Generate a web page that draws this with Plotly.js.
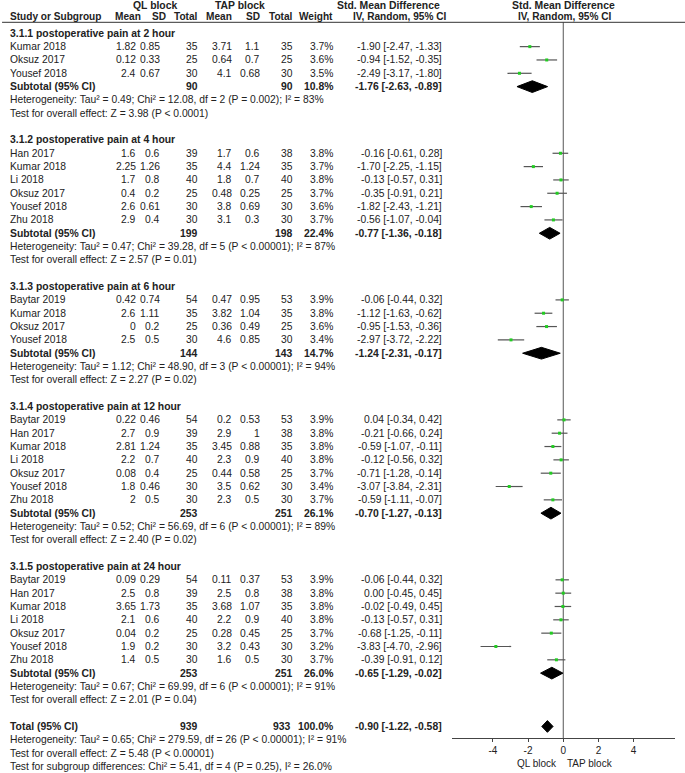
<!DOCTYPE html>
<html>
<head>
<meta charset="utf-8">
<script src="https://cdn.plot.ly/plotly-3.0.1.min.js"></script>
<style>
  body { margin: 0; background: #fff; }
  #plot { width: 685px; height: 773px; }
</style>
</head>
<body>
<div id="plot"></div>
<script>
// Study rows (flat, grouped by studyGroup)
const studyGroup = [0,0,0, 1,1,1,1,1,1, 2,2,2,2, 3,3,3,3,3,3,3, 4,4,4,4,4,4,4];
const studyName = [
  "Kumar 2018","Oksuz 2017","Yousef 2018",
  "Han 2017","Kumar 2018","Li 2018","Oksuz 2017","Yousef 2018","Zhu 2018",
  "Baytar 2019","Kumar 2018","Oksuz 2017","Yousef 2018",
  "Baytar 2019","Han 2017","Kumar 2018","Li 2018","Oksuz 2017","Yousef 2018","Zhu 2018",
  "Baytar 2019","Han 2017","Kumar 2018","Li 2018","Oksuz 2017","Yousef 2018","Zhu 2018"
];
const qlMean  = [1.82,0.12,2.4, 1.6,2.25,1.7,0.4,2.6,2.9, 0.42,2.6,0,2.5, 0.22,2.7,2.81,2.2,0.08,1.8,2, 0.09,2.5,3.65,2.1,0.04,1.9,1.4];
const qlSD    = [0.85,0.33,0.67, 0.6,1.26,0.8,0.2,0.61,0.4, 0.74,1.11,0.2,0.5, 0.46,0.9,1.24,0.7,0.4,0.46,0.5, 0.29,0.8,1.73,0.6,0.2,0.2,0.5];
const qlN     = [35,25,30, 39,35,40,25,30,30, 54,35,25,30, 54,39,35,40,25,30,30, 54,39,35,40,25,30,30];
const tapMean = [3.71,0.64,4.1, 1.7,4.4,1.8,0.48,3.8,3.1, 0.47,3.82,0.36,4.6, 0.2,2.9,3.45,2.3,0.44,3.5,2.3, 0.11,2.5,3.68,2.2,0.28,3.2,1.6];
const tapSD   = [1.1,0.7,0.68, 0.6,1.24,0.7,0.25,0.69,0.3, 0.95,1.04,0.49,0.85, 0.53,1,0.88,0.9,0.58,0.62,0.5, 0.37,0.8,1.07,0.9,0.45,0.43,0.5];
const tapN    = [35,25,30, 38,35,40,25,30,30, 53,35,25,30, 53,38,35,40,25,30,30, 53,38,35,40,25,30,30];
const weight  = [3.7,3.6,3.5, 3.8,3.7,3.8,3.7,3.6,3.7, 3.9,3.8,3.6,3.4, 3.9,3.8,3.8,3.8,3.7,3.4,3.7, 3.9,3.8,3.8,3.8,3.7,3.2,3.7];
const smd     = [-1.90,-0.94,-2.49, -0.16,-1.70,-0.13,-0.35,-1.82,-0.56, -0.06,-1.12,-0.95,-2.97, 0.04,-0.21,-0.59,-0.12,-0.71,-3.07,-0.59, -0.06,0.00,-0.02,-0.13,-0.68,-3.83,-0.39];
const ciLow   = [-2.47,-1.52,-3.17, -0.61,-2.25,-0.57,-0.91,-2.43,-1.07, -0.44,-1.63,-1.53,-3.72, -0.34,-0.66,-1.07,-0.56,-1.28,-3.84,-1.11, -0.44,-0.45,-0.49,-0.57,-1.25,-4.70,-0.91];
const ciHigh  = [-1.33,-0.35,-1.80, 0.28,-1.15,0.31,0.21,-1.21,-0.04, 0.32,-0.62,-0.36,-2.22, 0.42,0.24,-0.11,0.32,-0.14,-2.31,-0.07, 0.32,0.45,0.45,0.31,-0.11,-2.96,0.12];

// Subgroups
const subTitle = [
  "3.1.1 postoperative pain at 2 hour",
  "3.1.2 postoperative pain at 4 hour",
  "3.1.3 postoperative pain at 6 hour",
  "3.1.4 postoperative pain at 12 hour",
  "3.1.5 postoperative pain at 24 hour"
];
const subQlN = [90, 199, 144, 253, 253];
const subTapN = [90, 198, 143, 251, 251];
const subWeight = [10.8, 22.4, 14.7, 26.1, 26.0];
const subSmd = [-1.76, -0.77, -1.24, -0.70, -0.65];
const subLow = [-2.63, -1.36, -2.31, -1.27, -1.29];
const subHigh = [-0.89, -0.18, -0.17, -0.13, -0.02];
const subHet = [
  "Heterogeneity: Tau² = 0.49; Chi² = 12.08, df = 2 (P = 0.002); I² = 83%",
  "Heterogeneity: Tau² = 0.47; Chi² = 39.28, df = 5 (P < 0.00001); I² = 87%",
  "Heterogeneity: Tau² = 1.12; Chi² = 48.90, df = 3 (P < 0.00001); I² = 94%",
  "Heterogeneity: Tau² = 0.52; Chi² = 56.69, df = 6 (P < 0.00001); I² = 89%",
  "Heterogeneity: Tau² = 0.67; Chi² = 69.99, df = 6 (P < 0.00001); I² = 91%"
];
const subTest = [
  "Test for overall effect: Z = 3.98 (P < 0.0001)",
  "Test for overall effect: Z = 2.57 (P = 0.01)",
  "Test for overall effect: Z = 2.27 (P = 0.02)",
  "Test for overall effect: Z = 2.40 (P = 0.02)",
  "Test for overall effect: Z = 2.01 (P = 0.04)"
];

// Overall
const totalQlN = 939, totalTapN = 933, totalWeight = 100.0;
const totalSmd = -0.90, totalLow = -1.22, totalHigh = -0.58;
const totalNotes = [
  "Heterogeneity: Tau² = 0.65; Chi² = 279.59, df = 26 (P < 0.00001); I² = 91%",
  "Test for overall effect: Z = 5.48 (P < 0.00001)",
  "Test for subgroup differences: Chi² = 5.41, df = 4 (P = 0.25), I² = 26.0%"
];
const tickVals = [-4, -2, 0, 2, 4];

// page geometry (pixels)
const W = 685, H = 773;
const row0 = 33.3, pitch = 13.33;
const px = v => v / W;
const col = { name: 9.3, qm: 136.7, qs: 160.7, qn: 199, tm: 232.7, ts: 260.7, tn: 294, w: 334.3, ci: 442.7 };
const hdrRow = (22.3 - row0) / pitch;
const axisRow = (738.3 - row0) / pitch;

const fmtCI = (e, l, h) => `${e.toFixed(2)} [${l.toFixed(2)}, ${h.toFixed(2)}]`;

const ann = [];
function txt(x, r, s, anchor, bold, xref, size) {
  ann.push({
    x: xref ? x : px(x), xref: xref || "paper", y: r, yref: "y",
    text: bold ? `<b>${s}</b>` : s,
    font: { size: size || (bold ? 10.4 : 10.3) },
    xanchor: anchor, yanchor: "middle", showarrow: false, borderpad: 0
  });
}

// headers
txt(155, -2.12, "QL block", "center", true);
txt(240, -2.12, "TAP block", "center", true);
txt(388, -2.12, "Std. Mean Difference", "center", true);
txt(563.3, -2.12, "Std. Mean Difference", "center", true);
const h2 = -1.245, hs = 10.1;
txt(col.name, h2, "Study or Subgroup", "left", true, null, hs);
txt(141.7, h2, "Mean", "right", true, null, hs);
txt(166.7, h2, "SD", "right", true, null, hs);
txt(199, h2, "Total", "right", true, null, hs);
txt(233, h2, "Mean", "right", true, null, hs);
txt(260.7, h2, "SD", "right", true, null, hs);
txt(294, h2, "Total", "right", true, null, hs);
txt(334.3, h2, "Weight", "right", true, null, hs);
txt(400, h2, "IV, Random, 95% CI", "center", true, null, hs);
txt(564, h2, "IV, Random, 95% CI", "center", true, null, hs);

// lay out rows
const studyRow = [];
const subRow = [];
let r = 0;
subTitle.forEach((t, g) => {
  txt(col.name, r, t, "left", true);
  r++;
  studyName.forEach((n, i) => {
    if (studyGroup[i] !== g) return;
    studyRow[i] = r;
    txt(col.name, r, n, "left");
    txt(col.qm, r, String(qlMean[i]), "right");
    txt(col.qs, r, String(qlSD[i]), "right");
    txt(col.qn, r, String(qlN[i]), "right");
    txt(col.tm, r, String(tapMean[i]), "right");
    txt(col.ts, r, String(tapSD[i]), "right");
    txt(col.tn, r, String(tapN[i]), "right");
    txt(col.w, r, weight[i].toFixed(1) + "%", "right");
    txt(col.ci, r, fmtCI(smd[i], ciLow[i], ciHigh[i]), "right");
    r++;
  });
  subRow[g] = r;
  txt(col.name, r, "Subtotal (95% CI)", "left", true);
  txt(col.qn, r, String(subQlN[g]), "right", true);
  txt(col.tn, r, String(subTapN[g]), "right", true);
  txt(col.w, r, subWeight[g].toFixed(1) + "%", "right", true);
  txt(col.ci, r, fmtCI(subSmd[g], subLow[g], subHigh[g]), "right", true);
  r++;
  txt(col.name, r++, subHet[g], "left");
  txt(col.name, r++, subTest[g], "left");
  r++;
});
const totalRow = r;
txt(col.name, r, "Total (95% CI)", "left", true);
txt(col.qn, r, String(totalQlN), "right", true);
txt(col.tn - 2, r, String(totalTapN), "right", true);
txt(col.w, r, totalWeight.toFixed(1) + "%", "right", true);
txt(col.ci, r, fmtCI(totalSmd, totalLow, totalHigh), "right", true);
r++;
totalNotes.forEach(s => txt(col.name, r++, s, "left"));

// favours labels under the axis
const favRow = (763 - row0) / pitch;
txt(-0.3, favRow, "QL block", "right", false, "x", 10);
txt(0.15, favRow, "TAP block", "left", false, "x", 10);

// study estimates with CI
const studyTrace = {
  type: "scatter", mode: "markers",
  x: smd, y: studyRow,
  marker: { symbol: "square", size: 3, color: "#22cc22" },
  error_x: {
    type: "data", symmetric: false,
    array: smd.map((v, i) => ciHigh[i] - v),
    arrayminus: smd.map((v, i) => v - ciLow[i]),
    width: 0, thickness: 1.2, color: "#555"
  },
  hoverinfo: "skip"
};

// pooled diamonds
const dh = 0.44;
const dx = [], dy = [];
function diamond(e, l, h, rr) {
  dx.push(l, e, h, e, l, null);
  dy.push(rr, rr - dh, rr, rr + dh, rr, null);
}
subSmd.forEach((e, g) => diamond(e, subLow[g], subHigh[g], subRow[g]));
diamond(totalSmd, totalLow, totalHigh, totalRow);
const diamondTrace = {
  type: "scatter", mode: "lines", x: dx, y: dy,
  fill: "toself", fillcolor: "#000", line: { color: "#000", width: 1 },
  hoverinfo: "skip"
};

const layout = {
  width: W, height: H,
  margin: { l: 0, r: 0, t: 0, b: 0 },
  paper_bgcolor: "#fff", plot_bgcolor: "rgba(0,0,0,0)",
  showlegend: false,
  font: { family: "Liberation Sans, Arial, sans-serif", size: 10, color: "#222" },
  xaxis: {
    domain: [px(451.7), px(675)],
    range: [-6.34, 6.35],
    anchor: "free", position: (H - 738.3) / H,
    showline: true, linecolor: "#444", linewidth: 1,
    ticks: "outside", ticklen: 3, tickcolor: "#444",
    tickvals: tickVals, ticktext: tickVals.map(String),
    showgrid: false, zeroline: false, automargin: false,
    tickfont: { size: 10, color: "#222" }
  },
  yaxis: {
    domain: [0, 1],
    range: [(H - row0) / pitch, -row0 / pitch],
    visible: false, showgrid: false, zeroline: false, automargin: false
  },
  shapes: [
    { type: "line", xref: "paper", yref: "y", x0: 0.003, x1: 1, y0: hdrRow, y1: hdrRow,
      line: { color: "#333", width: 1 } },
    { type: "line", xref: "x", yref: "y", x0: 0, x1: 0, y0: hdrRow, y1: axisRow,
      line: { color: "#555", width: 1 }, layer: "below" }
  ],
  annotations: ann
};

Plotly.newPlot("plot", [studyTrace, diamondTrace], layout, { displayModeBar: false, staticPlot: true });
</script>
</body>
</html>
